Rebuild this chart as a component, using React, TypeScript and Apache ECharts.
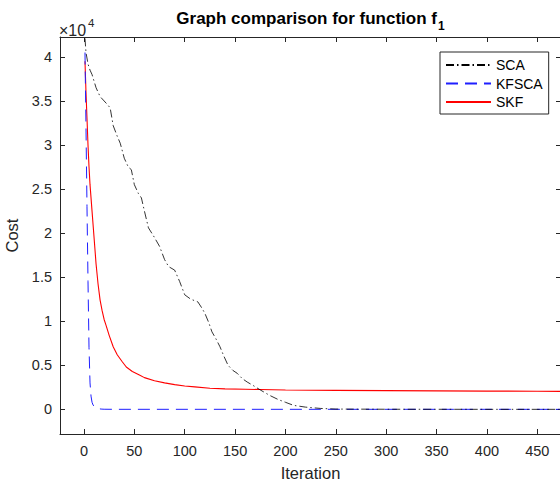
import React, { useEffect, useRef } from "react";
import * as echarts from "echarts";

const FONT = '"Liberation Sans", Arial, Helvetica, sans-serif';

const seriesNames = ["SCA", "KFSCA", "SKF"];

const scaIter = [1, 2, 4, 6, 8, 12, 16, 20, 24, 26, 29, 33, 36, 40, 44, 47, 50, 54, 57, 60, 64, 70, 75, 80, 84, 90, 95, 100, 106, 113, 117, 120, 124, 127, 131, 135, 139, 143, 148, 152, 157, 162, 168, 175, 184, 193, 200, 208, 220, 235, 250, 300, 400, 500];
const scaCost = [42100, 40500, 39200, 38500, 38000, 36500, 35500, 35000, 34500, 34200, 32200, 31000, 30200, 28500, 27500, 27200, 25500, 24500, 24000, 22500, 20600, 19500, 18500, 17000, 16200, 15800, 14500, 13000, 12500, 12200, 11500, 10900, 9800, 8800, 8000, 7100, 6000, 5000, 4400, 4100, 3500, 3100, 2700, 2200, 1600, 1100, 800, 450, 250, 100, 30, 10, 0, 0];

const kfscaIter = [1, 2, 3, 4, 5, 6, 7, 8, 9, 10, 12, 14, 17, 20, 30, 500];
const kfscaCost = [40500, 32000, 23000, 14500, 7000, 3000, 1500, 800, 500, 350, 180, 80, 30, 10, 2, 0];

const skfIter = [1, 2, 3, 4, 5, 6, 8, 10, 12, 14, 16, 18, 20, 22, 25, 29, 33, 38, 42, 48, 55, 60, 70, 80, 90, 100, 110, 125, 140, 160, 175, 200, 250, 300, 350, 400, 450, 500];
const skfCost = [39500, 36000, 33000, 30000, 27500, 25500, 22500, 19500, 16500, 14200, 12400, 11200, 10200, 9500, 8400, 7100, 6200, 5400, 4800, 4300, 3900, 3600, 3250, 3000, 2800, 2650, 2550, 2400, 2320, 2280, 2250, 2200, 2150, 2120, 2100, 2070, 2050, 2030];

const xTicks = [0, 50, 100, 150, 200, 250, 300, 350, 400, 450];
const yTicks = [0, 5000, 10000, 15000, 20000, 25000, 30000, 35000, 40000];

const zip = (xs: number[], ys: number[]) => xs.map((x, i) => [x, ys[i]]);

export default function App() {
  const ref = useRef<HTMLDivElement>(null);
  useEffect(() => {
    if (!ref.current) return;
    const chart = echarts.init(ref.current, null, { renderer: "svg" });
    const axisColor = "#262626";
    const xRange = { min: -23.8, max: 473.5 };
    const yRange = { min: -2800, max: 42260 };
    const xAxisBase = {
      type: "value",
      ...xRange,
      splitLine: { show: false },
      axisLine: { show: true, onZero: false, lineStyle: { color: axisColor, width: 1 } },
      axisTick: { show: true, inside: true, length: 5, customValues: xTicks, lineStyle: { color: axisColor } },
    };
    const yAxisBase = {
      type: "value",
      ...yRange,
      splitLine: { show: false },
      axisLine: { show: true, onZero: false, lineStyle: { color: axisColor, width: 1 } },
      axisTick: { show: true, inside: true, length: 5, customValues: yTicks, lineStyle: { color: axisColor } },
    };
    chart.setOption({
      animation: false,
      backgroundColor: "#ffffff",
      textStyle: { fontFamily: FONT },
      grid: { left: 60, top: 37, width: 501, height: 397, outerBoundsMode: "none", containLabel: false },
      legend: {
        left: 440,
        top: 52,
        orient: "vertical",
        data: seriesNames,
        itemWidth: 45,
        itemHeight: 14,
        itemGap: 4.5,
        padding: [6, 6, 5, 5],
        borderColor: axisColor,
        borderWidth: 1,
        backgroundColor: "#ffffff",
        itemStyle: { opacity: 0 },
        textStyle: { fontSize: 14, color: "#000", fontFamily: FONT },
      },
      xAxis: [
        {
          ...xAxisBase,
          position: "bottom",
          name: "Iteration",
          nameLocation: "middle",
          nameGap: 30,
          nameTextStyle: { fontSize: 16.5, color: axisColor, fontFamily: FONT },
          axisLabel: { show: true, customValues: xTicks, margin: 9, fontSize: 14.5, color: axisColor, fontFamily: FONT },
        },
        {
          ...xAxisBase,
          position: "top",
          axisLabel: { show: false },
        },
      ],
      yAxis: [
        {
          ...yAxisBase,
          position: "left",
          name: "Cost",
          nameLocation: "middle",
          nameRotate: 90,
          nameGap: 33,
          nameTextStyle: { fontSize: 16.5, color: axisColor, fontFamily: FONT },
          axisLabel: {
            show: true,
            customValues: yTicks,
            margin: 8,
            fontSize: 14.5,
            color: axisColor,
            fontFamily: FONT,
            formatter: (v: number) => String(v / 10000),
          },
        },
        {
          ...yAxisBase,
          position: "right",
          axisLabel: { show: false },
        },
      ],
      graphic: [
        {
          type: "text",
          x: 437,
          y: 18.5,
          style: { text: "Graph comparison for function f", font: `bold 17px ${FONT}`, fill: "#000", align: "right", verticalAlign: "middle" },
        },
        {
          type: "text",
          x: 438,
          y: 25.5,
          style: { text: "1", font: `bold 12px ${FONT}`, fill: "#000", align: "left", verticalAlign: "middle" },
        },
        {
          type: "text",
          x: 59,
          y: 30,
          style: { text: "×10", font: `16px ${FONT}`, fill: axisColor, align: "left", verticalAlign: "middle" },
        },
        {
          type: "text",
          x: 88,
          y: 23,
          style: { text: "4", font: `11.5px ${FONT}`, fill: axisColor, align: "left", verticalAlign: "middle" },
        },
      ],
      series: [
        {
          name: "SCA",
          type: "line",
          symbol: "none",
          data: zip(scaIter, scaCost),
          lineStyle: { color: "#000000", width: 0.8, type: [8, 3, 1.5, 3] },
          itemStyle: { color: "#000000" },
          z: 3,
        },
        {
          name: "KFSCA",
          type: "line",
          symbol: "none",
          data: zip(kfscaIter, kfscaCost),
          lineStyle: { color: "#1f1fff", width: 1, type: [12, 7] },
          itemStyle: { color: "#1f1fff" },
          z: 2,
        },
        {
          name: "SKF",
          type: "line",
          symbol: "none",
          data: zip(skfIter, skfCost),
          lineStyle: { color: "#ff0000", width: 1.1, type: "solid" },
          itemStyle: { color: "#ff0000" },
          z: 1,
        },
      ],
    });
    return () => chart.dispose();
  }, []);
  return <div ref={ref} style={{ width: 560, height: 487, position: "absolute", left: 0, top: 0 }} />;
}
